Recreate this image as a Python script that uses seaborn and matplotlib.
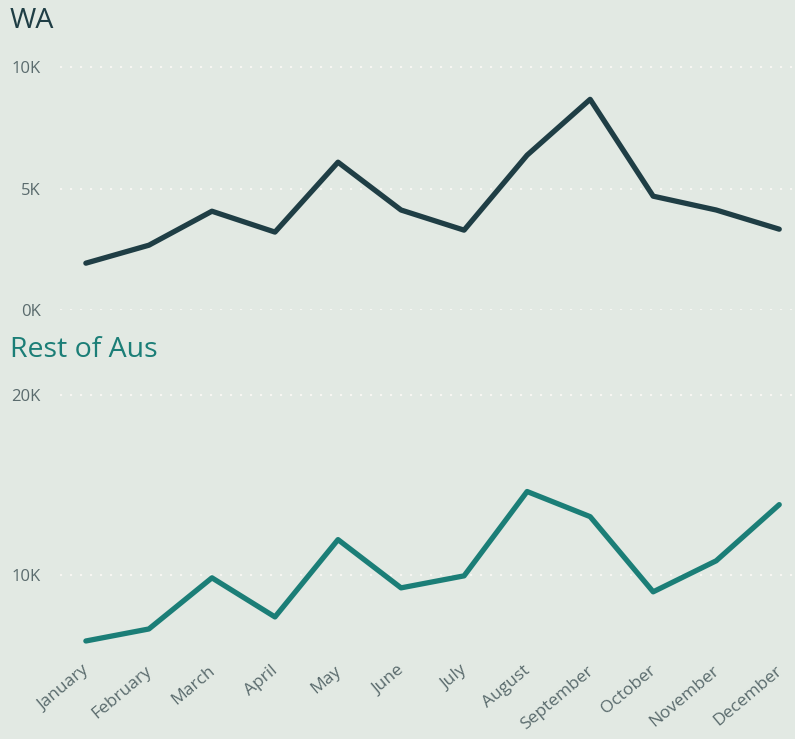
import matplotlib
matplotlib.use("Agg")
import matplotlib.pyplot as plt
import matplotlib.transforms as mtransforms
import pandas as pd
import seaborn as sns
from matplotlib.ticker import FuncFormatter

# data
months = ["January", "February", "March", "April", "May", "June",
          "July", "August", "September", "October", "November", "December"]
wa = [1930, 2670, 4070, 3210, 6090, 4120, 3290, 6380, 8680, 4690, 4120, 3330]
rest_of_aus = [6310, 6980, 9830, 7650, 11960, 9270, 9940, 14640, 13240, 9050, 10780, 13910]

df = pd.DataFrame({"month": months, "pos": range(len(months)),
                   "WA": wa, "Rest of Aus": rest_of_aus})

bg = "#E2E9E3"
sns.set_theme(style="white", rc={"axes.facecolor": bg, "figure.facecolor": bg})
plt.rcParams["font.family"] = ["Open Sans", "DejaVu Sans"]

fig = plt.figure(figsize=(7.95, 7.39), dpi=100)
ax1 = fig.add_axes([0.0755, 0.5805, 0.9245, 0.3383])
ax2 = fig.add_axes([0.0755, 0.1069, 0.9245, 0.3654])

kfmt = FuncFormatter(lambda v, p: f"{int(round(v / 1000))}K")
tick_col = "#5A6B6D"

def style(ax, ticks, ylim):
    ax.set_xlim(-0.41, 11.25)
    ax.set_ylim(*ylim)
    ax.set_yticks(ticks)
    ax.yaxis.set_major_formatter(kfmt)
    for t in ticks:
        ax.axhline(t, color="#F7F6F2", lw=1.5, linestyle=(0, (1, 3.8)), zorder=0)
    for s in ax.spines.values():
        s.set_visible(False)
    ax.tick_params(axis="y", length=0, pad=14, labelsize=12, labelcolor=tick_col)
    ax.set_xlabel("")
    ax.set_ylabel("")

sns.lineplot(data=df, x="pos", y="WA", ax=ax1, color="#1F3E45", lw=3.8,
             solid_capstyle="round")
style(ax1, [0, 5000, 10000], (0, 10300))
ax1.set_xticks([])

sns.lineplot(data=df, x="pos", y="Rest of Aus", ax=ax2, color="#1B7E77", lw=3.8,
             solid_capstyle="round")
style(ax2, [10000, 20000], (5250, 20300))
ax2.set_xticks(range(len(months)))
ax2.set_xticklabels(months, rotation=40, ha="right", rotation_mode="anchor",
                    fontsize=12.5, color=tick_col)
ax2.tick_params(axis="x", length=0, pad=2)
shift = mtransforms.ScaledTranslation(-4 / 100, 0, fig.dpi_scale_trans)
for lab in ax2.get_xticklabels():
    lab.set_transform(lab.get_transform() + shift)

fig.text(0.0126, 0.972, "WA", fontsize=20.5, color="#1F3E45", va="center", ha="left")
fig.text(0.0126, 0.526, "Rest of Aus", fontsize=20.5, color="#1B7E77", va="center", ha="left")

fig.savefig("out.png", dpi=100, facecolor=bg)
